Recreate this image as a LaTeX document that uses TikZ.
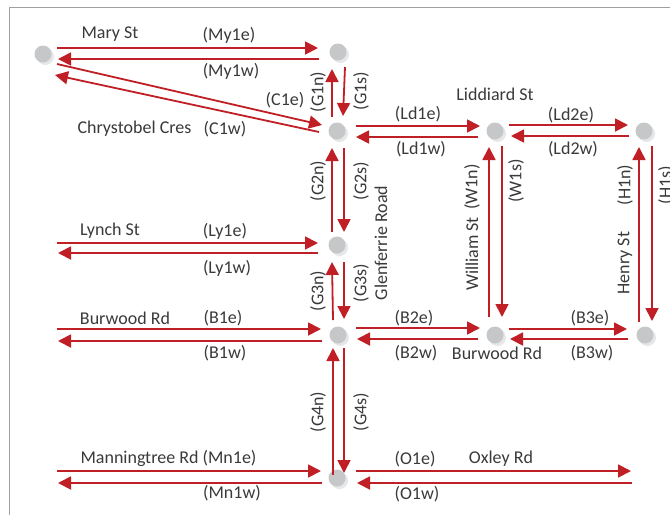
\documentclass[tikz,border=0pt]{standalone}
\usepackage{fontspec}
\setmainfont{Carlito}
\usetikzlibrary{arrows.meta}
\definecolor{rd}{HTML}{C01F26}
\definecolor{txt}{HTML}{3A3A3C}
\definecolor{dot}{HTML}{C6C7C9}
\definecolor{dotsh}{HTML}{E6E7E8}
\definecolor{frm}{HTML}{A0A0A0}
\tikzset{
  x=1pt,y=-1pt,
  stop/.style={circle,fill=dot,inner sep=0pt,minimum size=17pt,draw=none},
  arr/.style={draw=rd,line width=1.8pt,-{Triangle[length=13pt,width=13pt]}},
  lbl/.style={text=txt,font=\fontsize{18}{20}\selectfont,inner sep=0pt,anchor=center},
  vlbl/.style={lbl,rotate=90},
}
\newcommand{\stopat}[3]{%
  \fill[dotsh] (#2+2.5,#3+2.5) circle[radius=8.5pt];
  \node[stop] (#1) at (#2,#3) {};}
\newcommand{\lnk}[6]{\draw[arr] ([shift={(#3,#4)}]#1.center) -- ([shift={(#5,#6)}]#2.center);}
\begin{document}
\begin{tikzpicture}
\useasboundingbox (0,0) rectangle (670,515);
\fill[white] (0,0) rectangle (670,515);
\draw[frm,line width=1pt] (670,7.5) -- (9.5,7.5) -- (9.5,515);
\stopat{m}{43}{54}
\stopat{ga}{338}{52}
\stopat{gb}{337}{131}
\stopat{la}{495}{131}
\stopat{ha}{644}{131}
\stopat{gc}{337}{245}
\stopat{gd}{338}{335}
\stopat{wb}{495}{335}
\stopat{hb}{645}{335}
\stopat{ge}{337}{478}
\coordinate (lyw) at (43,248);
\coordinate (bw) at (43,335);
\coordinate (mnw) at (43,477);
\coordinate (oe) at (645,477);
% Mary / Chrystobel
\lnk{m}{ga}{14}{-6}{-20}{-4}
\lnk{ga}{m}{-19}{7}{15}{5}
\lnk{m}{gb}{14}{10}{-15}{-6}
\lnk{gb}{m}{-18}{1}{12}{21}
% Glenferrie
\lnk{gb}{ga}{-5}{-14}{-6}{17}
\lnk{ga}{gb}{7}{15}{6}{-15}
\lnk{gc}{gb}{-5}{-13}{-5}{17}
\lnk{gb}{gc}{7}{17}{7}{-13}
\lnk{gd}{gc}{-5}{-15}{-5}{17}
\lnk{gc}{gd}{7}{17}{6}{-16}
\lnk{ge}{gd}{-4}{-3}{-5}{13}
\lnk{gd}{ge}{6}{13}{7}{-5}
% Liddiard
\lnk{gb}{la}{19}{-5}{-15}{-5}
\lnk{la}{gb}{-17}{6}{19}{6}
\lnk{la}{ha}{14}{-6}{-16}{-6}
\lnk{ha}{la}{-15}{5}{16}{5}
% William, Henry
\lnk{wb}{la}{-6}{-18}{-6}{16}
\lnk{la}{wb}{7}{15}{7}{-18}
\lnk{hb}{ha}{-6}{-13}{-5}{16}
\lnk{ha}{hb}{8}{15}{7}{-14}
% Lynch, Burwood, Manningtree
\lnk{gc}{lyw}{-19}{8}{15}{5}
\draw[arr] ([shift={(14,-5)}]lyw) -- ([shift={(-19,-2)}]gc.center);
\lnk{gd}{bw}{-16}{6}{15}{6}
\draw[arr] ([shift={(14,-6)}]bw) -- ([shift={(-17,-6)}]gd.center);
\lnk{gd}{wb}{18}{-7}{-15}{-7}
\lnk{wb}{gd}{-17}{4}{19}{4}
\lnk{wb}{hb}{14}{-6}{-18}{-6}
\lnk{hb}{wb}{-17}{4}{15}{4}
\lnk{ge}{mnw}{-15}{5}{15}{6}
\draw[arr] ([shift={(14,-6)}]mnw) -- ([shift={(-16,-7)}]ge.center);
\lnk{ge}{oe}{19}{-7}{-14}{-6}
\draw[arr] ([shift={(-13,6)}]oe) -- ([shift={(20,5)}]ge.center);
% labels
\node[lbl] (t1) at (110,34) {Mary St};
\node[lbl] (t2) at (229,35) {(My1e)};
\node[lbl] (t3) at (231,71) {(My1w)};
\node[lbl] (t4) at (285,100) {(C1e)};
\node[lbl] (t5) at (134.5,129) {Chrystobel Cres};
\node[lbl] (t6) at (225,129) {(C1w)};
\node[vlbl] (t7) at (318,92) {(G1n)};
\node[vlbl] (t8) at (361,91) {(G1s)};
\node[lbl] (t9) at (495,94) {Liddiard St};
\node[lbl] (t10) at (418,114) {(Ld1e)};
\node[lbl] (t11) at (421,149) {(Ld1w)};
\node[lbl] (t12) at (571,115) {(Ld2e)};
\node[lbl] (t13) at (573,149) {(Ld2w)};
\node[vlbl] (t14) at (318,181) {(G2n)};
\node[vlbl] (t15) at (361,181) {(G2s)};
\node[vlbl] (t16) at (381,243) {Glenferrie Road};
\node[vlbl] (t17) at (472,187) {(W1n)};
\node[vlbl] (t18) at (516,181) {(W1s)};
\node[vlbl] (t19) at (472,254) {William St};
\node[vlbl] (t20) at (625,185) {(H1n)};
\node[vlbl] (t21) at (666,185) {(H1s)};
\node[vlbl] (t22) at (625,263) {Henry St};
\node[lbl] (t23) at (110,231) {Lynch St};
\node[lbl] (t24) at (225,231) {(Ly1e)};
\node[lbl] (t25) at (227,268) {(Ly1w)};
\node[vlbl] (t26) at (318,291) {(G3n)};
\node[vlbl] (t27) at (361,283) {(G3s)};
\node[lbl] (t28) at (125,318) {Burwood Rd};
\node[lbl] (t29) at (223,318) {(B1e)};
\node[lbl] (t30) at (225,353) {(B1w)};
\node[lbl] (t31) at (414,318) {(B2e)};
\node[lbl] (t32) at (416,353) {(B2w)};
\node[lbl] (t33) at (497,353) {Burwood Rd};
\node[lbl] (t34) at (590,318) {(B3e)};
\node[lbl] (t35) at (592,353) {(B3w)};
\node[vlbl] (t36) at (318,412) {(G4n)};
\node[vlbl] (t37) at (361,412) {(G4s)};
\node[lbl] (t38) at (168.5,458) {Manningtree Rd (Mn1e)};
\node[lbl] (t39) at (232,493) {(Mn1w)};
\node[lbl] (t40) at (415,459) {(O1e)};
\node[lbl] (t41) at (501,459) {Oxley Rd};
\node[lbl] (t42) at (417,494) {(O1w)};
\end{tikzpicture}
\end{document}
